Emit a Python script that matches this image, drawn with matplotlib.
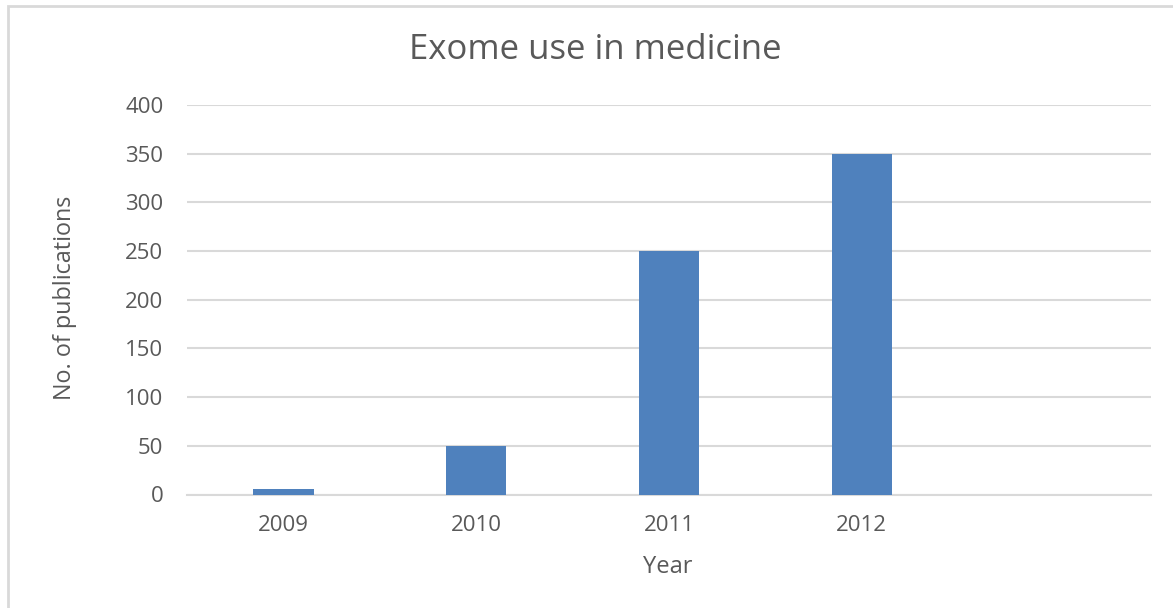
import matplotlib
matplotlib.use("Agg")
import matplotlib.pyplot as plt
from matplotlib.patches import Rectangle

categories = ["2009", "2010", "2011", "2012", ""]
publications = [6, 50, 250, 350, None]
y_ticks = [0, 50, 100, 150, 200, 250, 300, 350, 400]

plt.rcParams["font.family"] = ["Open Sans", "DejaVu Sans"]
text_color = "#595959"
grid_color = "#d9d9d9"
bar_color = "#4f81bd"

W, H = 1173, 608
fig = plt.figure(figsize=(W / 100, H / 100), dpi=100)

# chart border (chart area extends past the image on the right and bottom)
fig.patches.append(Rectangle((8 / W, -0.1), 1.2, 1 - 6 / H + 0.1,
                             transform=fig.transFigure, fill=False,
                             edgecolor=grid_color, linewidth=2))

ax = fig.add_axes([187 / W, (H - 494.5) / H, (1151 - 187) / W, (494.5 - 105) / H])

xs = list(range(len(categories)))
vals = [v if v is not None else 0 for v in publications]
ax.bar(xs, vals, width=0.313, color=bar_color, zorder=3)

ax.set_xlim(-0.5, len(categories) - 0.5)
ax.set_ylim(0, 400)
ax.set_yticks(y_ticks)
ax.set_xticks(xs)
ax.set_xticklabels(categories)
ax.yaxis.grid(True, color=grid_color, linewidth=1.5, zorder=0)
ax.set_axisbelow(True)
for s in ["top", "right", "left"]:
    ax.spines[s].set_visible(False)
ax.spines["bottom"].set_color(grid_color)
ax.spines["bottom"].set_linewidth(1.5)
ax.tick_params(axis="both", length=0, colors=text_color, labelsize=16)
ax.tick_params(axis="y", pad=17)
ax.tick_params(axis="x", pad=15)

fig.text(595 / W, 1 - 50 / H, "Exome use in medicine", ha="center", va="center",
         fontsize=25, color=text_color)
fig.text(65 / W, 1 - 298 / H, "No. of publications", ha="center", va="center",
         rotation=90, fontsize=16.8, color=text_color)
fig.text(668 / W, 1 - 567 / H, "Year", ha="center", va="center",
         fontsize=17, color=text_color)

fig.savefig("out.png", dpi=100, facecolor="white")
